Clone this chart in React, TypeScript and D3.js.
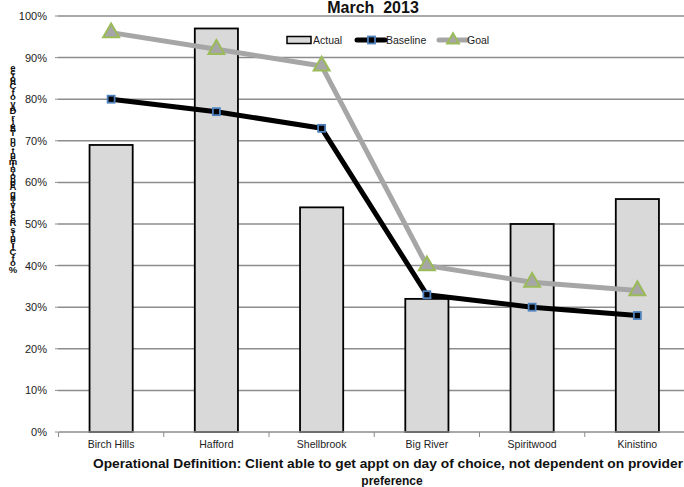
import React from "react";
import * as d3 from "d3";

// Sites and monthly results (share of clients)
const sites = ["Birch Hills", "Hafford", "Shellbrook", "Big River", "Spiritwood", "Kinistino"];
const actual = [0.69, 0.97, 0.54, 0.32, 0.5, 0.56];
const baseline = [0.8, 0.77, 0.73, 0.33, 0.3, 0.28];
const goal = [0.96, 0.92, 0.88, 0.4, 0.36, 0.34];
const yTicks = [0, 0.1, 0.2, 0.3, 0.4, 0.5, 0.6, 0.7, 0.8, 0.9, 1.0];

const chartTitle = "March  2013";
const yTitle = "% of Clients Receiving Appointment on Their Day of Choice";
const xTitle1 = "Operational Definition: Client able to get appt on day of choice, not dependent on provider";
const xTitle2 = "preference";

const W = 684;
const H = 487;
const FONT = "'Liberation Sans', Arial, sans-serif";

export default function App() {
  const x = d3.scaleBand<string>().domain(sites).range([58.5, 690]).padding(0);
  const y = d3.scaleLinear().domain([0, 1]).range([432, 16]);
  const barW = x.bandwidth() * 0.41;
  const cx = (s: string) => (x(s) as number) + x.bandwidth() / 2;

  const line = d3
    .line<number>()
    .x((_, i) => cx(sites[i]))
    .y((v) => y(v));

  const tri = d3.symbol().type(d3.symbolTriangle).size(110);

  // Y title: upright glyphs stacked vertically, read bottom to top
  const yTitleStacked = yTitle.split("").reverse().join("");

  const legendY = 40;

  return (
    <svg
      width={W}
      height={H}
      style={{ position: "absolute", left: 0, top: 0, background: "#fff" }}
      fontFamily={FONT}
    >
      {/* gridlines */}
      {yTicks.slice(1).map((t) => (
        <line key={t} x1={58} x2={W} y1={y(t)} y2={y(t)} stroke="#8c8c8c" strokeWidth={1.5} />
      ))}
      {/* y tick labels and tick marks */}
      {yTicks.map((t) => (
        <g key={"yt" + t}>
          <text x={47} y={y(t) + 4} textAnchor="end" fontSize={11} fill="#222">
            {d3.format(".0%")(t)}
          </text>
          <line x1={55} x2={58} y1={y(t)} y2={y(t)} stroke="#8c8c8c" strokeWidth={1} />
        </g>
      ))}
      {/* bars */}
      {sites.map((s, i) => (
        <rect
          key={s}
          x={cx(s) - barW / 2}
          y={y(actual[i])}
          width={barW}
          height={y(0) - y(actual[i])}
          fill="#d9d9d9"
          stroke="#000"
          strokeWidth={1.8}
        />
      ))}
      {/* category axis */}
      <line x1={58.5} x2={W} y1={y(0)} y2={y(0)} stroke="#8c8c8c" strokeWidth={1.5} />
      {sites.map((s) => (
        <line
          key={"tk" + s}
          x1={x(s) as number}
          x2={x(s) as number}
          y1={y(0)}
          y2={y(0) + 5}
          stroke="#8c8c8c"
          strokeWidth={1}
        />
      ))}
      {sites.map((s) => (
        <text key={"xl" + s} x={cx(s)} y={448} textAnchor="middle" fontSize={10.5} fill="#222">
          {s}
        </text>
      ))}
      {/* goal line */}
      <path d={line(goal) ?? ""} fill="none" stroke="#a6a6a6" strokeWidth={5} strokeLinejoin="round" />
      {/* baseline line */}
      <path d={line(baseline) ?? ""} fill="none" stroke="#000" strokeWidth={5} strokeLinejoin="round" />
      {baseline.map((v, i) => (
        <rect
          key={"bm" + i}
          x={cx(sites[i]) - 3.5}
          y={y(v) - 3.5}
          width={7}
          height={7}
          fill="#000"
          stroke="#4f81bd"
          strokeWidth={1.8}
        />
      ))}
      {goal.map((v, i) => (
        <path
          key={"gm" + i}
          d={tri() ?? ""}
          transform={`translate(${cx(sites[i])},${y(v)})`}
          fill="#a6a6a6"
          stroke="#9bbb59"
          strokeWidth={2}
        />
      ))}
      {/* title */}
      <text x={373} y={13} textAnchor="middle" fontSize={16} fontWeight="bold" fill="#111" style={{ whiteSpace: "pre" }}>
        {chartTitle}
      </text>
      {/* legend */}
      <rect x={287} y={legendY - 3.5} width={24} height={7} fill="#d9d9d9" stroke="#000" strokeWidth={1.5} />
      <text x={313} y={legendY + 4} fontSize={10.5} fill="#222">Actual</text>
      <line x1={357} x2={385} y1={legendY} y2={legendY} stroke="#000" strokeWidth={5} strokeLinecap="round" />
      <rect x={368} y={legendY - 3.5} width={7} height={7} fill="#000" stroke="#4f81bd" strokeWidth={1.8} />
      <text x={386} y={legendY + 4} fontSize={10.5} fill="#222">Baseline</text>
      <line x1={439} x2={467} y1={legendY} y2={legendY} stroke="#a6a6a6" strokeWidth={5} strokeLinecap="round" />
      <path
        d={d3.symbol().type(d3.symbolTriangle).size(60)() ?? ""}
        transform={`translate(453,${legendY})`}
        fill="#a6a6a6"
        stroke="#9bbb59"
        strokeWidth={2}
      />
      <text x={467} y={legendY + 4} fontSize={10.5} fill="#222">Goal</text>
      {/* y title */}
      <text
        x={13}
        y={62}
        fill="#111"
        fontSize={9.5}
        fontWeight="bold"
        textLength={213}
        lengthAdjust="spacing"
        style={{ writingMode: "vertical-rl", textOrientation: "upright", whiteSpace: "pre" }}
      >
        {yTitleStacked}
      </text>
      {/* x title */}
      <text x={388} y={468} textAnchor="middle" fontSize={12} fontWeight="bold" fill="#111" textLength={590} lengthAdjust="spacingAndGlyphs">
        {xTitle1}
      </text>
      <text x={392} y={485} textAnchor="middle" fontSize={12} fontWeight="bold" fill="#111">
        {xTitle2}
      </text>
    </svg>
  );
}
